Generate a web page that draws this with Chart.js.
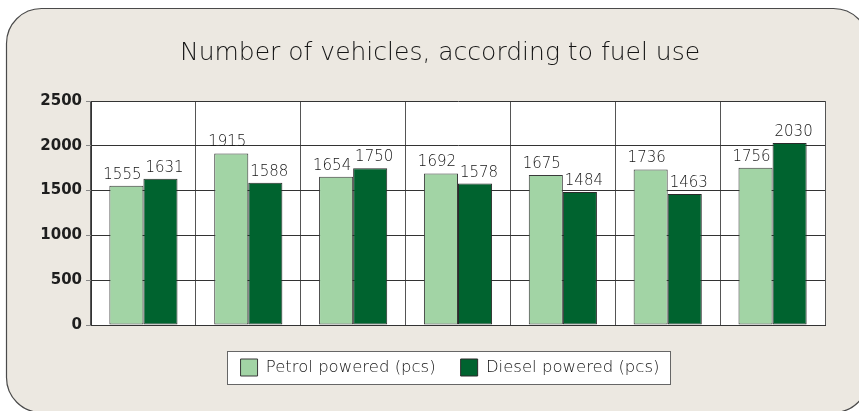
<!DOCTYPE html>
<html>
<head>
<meta charset="utf-8">
<script src="https://cdn.jsdelivr.net/npm/chart.js@4/dist/chart.umd.min.js"></script>
<style>
  html, body { margin: 0; padding: 0; background: #ffffff; }
  #wrap { width: 859px; height: 411px; position: relative; }
</style>
</head>
<body>
<div id="wrap"><canvas id="c" width="859" height="411"></canvas></div>
<script>
const categories = ["1", "2", "3", "4", "5", "6", "7"];
const petrolValues = [1555, 1915, 1654, 1692, 1675, 1736, 1756];
const dieselValues = [1631, 1588, 1750, 1578, 1484, 1463, 2030];
const yTicks = [0, 500, 1000, 1500, 2000, 2500];
const seriesNames = ["Petrol powered (pcs)", "Diesel powered (pcs)"];
const titleText = "Number of vehicles, according to fuel use";

const LIGHT_FONT = 'DejaVu Sans';
const TEXT_COLOR = '#151515';

const panelPlugin = {
  id: 'panel',
  afterLayout(chart) {
    chart.legend.left += 10;
    chart.legend.right += 10;
  },
  beforeDraw(chart) {
    const ctx = chart.ctx;
    ctx.save();
    ctx.beginPath();
    ctx.roundRect(6.5, 8.5, 862, 404, 35);
    ctx.fillStyle = '#ece8e1';
    ctx.fill();
    ctx.lineWidth = 1.2;
    ctx.strokeStyle = '#4a4a4a';
    ctx.stroke();
    const a = chart.chartArea;
    ctx.fillStyle = '#ffffff';
    ctx.fillRect(a.left, a.top, a.right - a.left, a.bottom - a.top);
    const hb = chart.legend.legendHitBoxes;
    if (hb && hb.length) {
      const l = hb[0].left - 14, r = hb[hb.length - 1].left + hb[hb.length - 1].width + 10;
      const t = hb[0].top - 8, b = hb[0].top + hb[0].height + 8;
      const x0 = Math.round(l) + 0.5, y0 = Math.round(t) + 0.5, w = Math.round(r - l), h = Math.round(b - t);
      ctx.fillStyle = '#ffffff';
      ctx.fillRect(x0, y0, w, h);
      ctx.strokeStyle = '#666666';
      ctx.lineWidth = 1;
      ctx.strokeRect(x0, y0, w, h);
    }
    ctx.restore();
  },
  afterDatasetsDraw(chart) {
    const ctx = chart.ctx;
    ctx.save();
    ctx.font = '200 15px "' + LIGHT_FONT + '"';
    ctx.fillStyle = TEXT_COLOR;
    ctx.textAlign = 'center';
    ctx.textBaseline = 'alphabetic';
    chart.data.datasets.forEach((ds, i) => {
      const meta = chart.getDatasetMeta(i);
      const shift = i === 0 ? -4 : 4;
      meta.data.forEach((bar, j) => {
        ctx.fillText(String(ds.data[j]), bar.x + shift, bar.y - 7);
      });
    });
    ctx.restore();
  }
};

new Chart(document.getElementById('c'), {
  type: 'bar',
  data: {
    labels: categories,
    datasets: [
      { label: seriesNames[0], data: petrolValues, backgroundColor: '#a2d4a5', borderColor: '#3a3a3a', borderWidth: 1, borderSkipped: false },
      { label: seriesNames[1], data: dieselValues, backgroundColor: '#00632f', borderColor: '#2a2a2a', borderWidth: 1, borderSkipped: false }
    ]
  },
  options: {
    responsive: false,
    animation: false,
    devicePixelRatio: 1,
    layout: { padding: { left: 21, right: 0, top: 0, bottom: 25 } },
    datasets: { bar: { categoryPercentage: 0.65, barPercentage: 1.0 } },
    scales: {
      x: {
        grid: { display: true, offset: true, color: '#555555', lineWidth: 1, drawTicks: false },
        border: { display: true, color: '#333333' },
        ticks: { display: false },
        afterFit(s) { s.height = 9; }
      },
      y: {
        min: 0, max: 2500,
        afterBuildTicks(s) { s.ticks = yTicks.map(v => ({ value: v })); },
        grid: { color: '#333333', lineWidth: 1, tickLength: 5, tickColor: '#888888' },
        border: { display: true, color: '#333333' },
        ticks: {
          padding: 4, color: '#1e1e1e',
          font: { family: 'DejaVu Sans', size: 15, weight: 'bold' },
          callback: (v) => String(v)
        },
        afterFit(s) { s.width = 70; }
      },
      y2: {
        position: 'right', display: true,
        grid: { display: false, drawTicks: false },
        border: { display: false },
        ticks: { display: false },
        afterFit(s) { s.width = 34; }
      }
    },
    plugins: {
      title: {
        display: true, text: titleText, color: TEXT_COLOR,
        font: { family: LIGHT_FONT, size: 25, weight: '200' },
        padding: { top: 38, bottom: 33 }
      },
      legend: {
        display: true, position: 'bottom',
        labels: { boxWidth: 17, boxHeight: 17, padding: 25, color: TEXT_COLOR, font: { family: LIGHT_FONT, size: 16.5, weight: '200' } }
      },
      tooltip: { enabled: false }
    }
  },
  plugins: [panelPlugin]
});
</script>
</body>
</html>
